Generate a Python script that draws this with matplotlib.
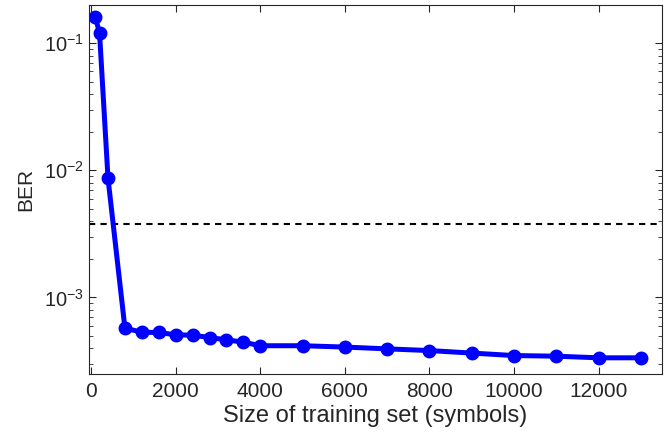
import numpy as np
import matplotlib
matplotlib.use("Agg")
import matplotlib.pyplot as plt
from matplotlib.ticker import LogLocator, NullFormatter

plt.rcParams['font.family'] = ['Liberation Sans', 'DejaVu Sans']
plt.rcParams['mathtext.fontset'] = 'custom'
plt.rcParams['mathtext.rm'] = 'Liberation Sans'
plt.rcParams['mathtext.it'] = 'Liberation Sans:italic'
plt.rcParams['mathtext.sf'] = 'Liberation Sans'

# training set size (symbols) and measured BER
train_size = [100, 200, 400, 800, 1200, 1600, 2000, 2400, 2800, 3200, 3600, 4000,
              5000, 6000, 7000, 8000, 9000, 10000, 11000, 12000, 13000]
ber = [0.161, 0.120, 8.66e-3, 5.73e-4, 5.33e-4, 5.30e-4, 5.08e-4, 5.05e-4, 4.84e-4,
       4.64e-4, 4.45e-4, 4.17e-4, 4.17e-4, 4.07e-4, 3.94e-4, 3.82e-4, 3.65e-4,
       3.49e-4, 3.45e-4, 3.35e-4, 3.35e-4]
fec_limit = 3.8e-3

grey = '#262626'

fig = plt.figure(figsize=(6.68, 4.41), dpi=100)
ax = fig.add_axes([0.1332, 0.152, 0.991 - 0.1332, 0.9887 - 0.152])

ax.axhline(fec_limit, color='black', linestyle=(0, (3, 2.5)), linewidth=1.5)
ax.plot(train_size, ber, color='#0000ff', linewidth=3.6, marker='o',
        markersize=6.2, markeredgewidth=3.8, markerfacecolor='none',
        markeredgecolor='#0000ff')

ax.set_yscale('log')
ax.set_xlim(-50, 13500)
ax.set_ylim(2.5e-4, 0.2)
ax.set_xticks(np.arange(0, 13000, 2000))
ax.yaxis.set_major_locator(LogLocator(base=10, numticks=10))
ax.yaxis.set_minor_locator(LogLocator(base=10, subs=np.arange(2, 10), numticks=10))
ax.yaxis.set_minor_formatter(NullFormatter())

ax.tick_params(which='both', direction='in', top=True, right=True, colors=grey,
               labelcolor=grey)
ax.tick_params(which='major', length=5, width=0.8)
ax.tick_params(which='minor', length=3, width=0.6)
ax.tick_params(axis='x', pad=6, labelsize=15)
ax.tick_params(axis='y', labelsize=14.5)
for s in ax.spines.values():
    s.set_color(grey)
    s.set_linewidth(0.8)

ax.set_xlabel('Size of training set (symbols)', fontsize=17, color=grey, labelpad=3)
ax.set_ylabel('BER', fontsize=15, color=grey, labelpad=6)

fig.savefig('out.png', dpi=100)
